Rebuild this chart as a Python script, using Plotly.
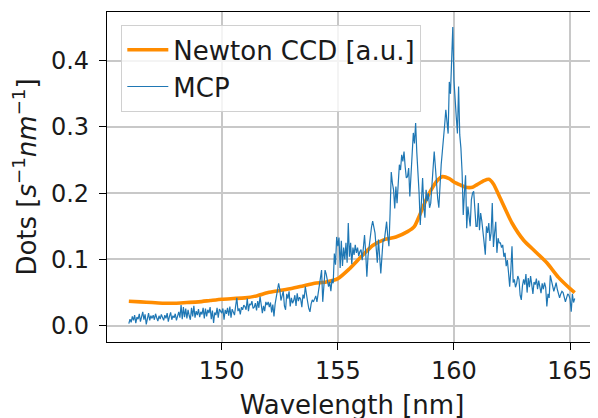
import numpy as np
import plotly.graph_objects as go

# ---- MCP spectrum (sampled every 0.05 nm from 146.00 to 165.20) ----
mcp_start = 146.0
mcp_step = 0.05
mcp_values = [
    # 146
    0.003, 0.010, 0.005, 0.014, 0.008, 0.016, 0.004, 0.013, 0.010, 0.018,
    0.006, 0.015, 0.021, 0.009, 0.017, 0.002, 0.012, 0.019, 0.008, 0.015,
    # 147
    0.011, 0.016, 0.009, 0.018, 0.012, 0.007, 0.015, 0.010, 0.017, 0.013,
    0.008, 0.016, 0.011, 0.019, 0.006, 0.014, 0.020, 0.009, 0.015, 0.012,
    # 148
    0.018, 0.008, 0.016, 0.021, 0.012, 0.031, 0.010, 0.028, 0.013, 0.026,
    0.011, 0.024, 0.015, 0.009, 0.027, 0.014, 0.030, 0.012, 0.022, 0.016,
    # 149
    0.025, 0.013, 0.021, 0.017, 0.027, 0.011, 0.026, 0.014, 0.024, 0.019,
    0.028, 0.010, 0.023, 0.004, 0.020, 0.016, 0.027, 0.012, 0.025, 0.021,
    # 150
    0.019, 0.026, 0.009, 0.024, 0.018, 0.027, 0.015, 0.029, 0.012, 0.025,
    0.020, 0.016, 0.030, 0.042, 0.022, 0.026, 0.017, 0.028, 0.024, 0.031,
    # 151
    0.029, 0.024, 0.041, 0.022, 0.033, 0.031, 0.037, 0.026, 0.028, 0.034,
    0.023, 0.037, 0.027, 0.044, 0.032, 0.019, 0.030, 0.022, 0.036, 0.031,
    # 152
    0.036, 0.028, 0.035, 0.020, 0.032, 0.014, 0.033, 0.045, 0.051, 0.064,
    0.055, 0.038, 0.045, 0.052, 0.030, 0.024, 0.048, 0.041, 0.052, 0.029,
    # 153
    0.042, 0.034, 0.038, 0.046, 0.030, 0.049, 0.037, 0.043, 0.040, 0.028,
    0.047, 0.041, 0.059, 0.044, 0.036, 0.026, 0.021, 0.033, 0.039, 0.036,
    # 154
    0.040, 0.045, 0.036, 0.050, 0.061, 0.072, 0.084, 0.036, 0.060, 0.084,
    0.078, 0.067, 0.059, 0.066, 0.052, 0.070, 0.064, 0.109, 0.092, 0.134,
    # 155
    0.120, 0.133, 0.087, 0.128, 0.090, 0.118, 0.100, 0.125, 0.095, 0.155,
    0.104, 0.125, 0.093, 0.118, 0.107, 0.122, 0.110, 0.118, 0.105, 0.112,
    # 156
    0.115, 0.099, 0.124, 0.137, 0.110, 0.074, 0.105, 0.122, 0.138, 0.149,
    0.158, 0.150, 0.140, 0.118, 0.095, 0.130, 0.108, 0.079, 0.105, 0.130,
    # 157
    0.128, 0.140, 0.157, 0.135, 0.120, 0.170, 0.232, 0.215, 0.205, 0.177,
    0.210, 0.185, 0.215, 0.243, 0.235, 0.258, 0.248, 0.263, 0.240, 0.223,
    # 158
    0.225, 0.238, 0.195, 0.230, 0.262, 0.291, 0.275, 0.306, 0.262, 0.232,
    0.200, 0.152, 0.195, 0.223, 0.180, 0.163, 0.205, 0.188, 0.200, 0.178,
    # 159
    0.185, 0.215, 0.245, 0.263, 0.240, 0.208, 0.192, 0.178, 0.215, 0.243,
    0.263, 0.280, 0.303, 0.326, 0.300, 0.290, 0.368, 0.350, 0.400, 0.451,
    # 160
    0.370, 0.330, 0.315, 0.290, 0.361, 0.288, 0.268, 0.232, 0.167, 0.200,
    0.227, 0.147, 0.180, 0.165, 0.150, 0.190, 0.200, 0.203, 0.178, 0.150,
    # 161
    0.150, 0.185, 0.144, 0.170, 0.158, 0.134, 0.125, 0.107, 0.150, 0.140,
    0.155, 0.128, 0.140, 0.185, 0.119, 0.140, 0.157, 0.110, 0.132, 0.125,
    # 162
    0.125, 0.118, 0.122, 0.104, 0.110, 0.090, 0.099, 0.080, 0.059, 0.084,
    0.120, 0.065, 0.070, 0.058, 0.064, 0.075, 0.070, 0.046, 0.039, 0.060,
    # 163
    0.070, 0.062, 0.078, 0.050, 0.072, 0.058, 0.075, 0.062, 0.048, 0.066,
    0.062, 0.071, 0.055, 0.068, 0.060, 0.049, 0.064, 0.055, 0.065, 0.058,
    # 164
    0.029, 0.048, 0.042, 0.076, 0.068, 0.060, 0.052, 0.058, 0.065, 0.055,
    0.050, 0.042, 0.048, 0.052, 0.050, 0.044, 0.036, 0.042, 0.048, 0.046,
    # 165
    0.040, 0.021, 0.048, 0.035, 0.041,
]
mcp_wavelength = [round(mcp_start + i * mcp_step, 2) for i in range(len(mcp_values))]

# ---- Newton CCD spectrum [a.u.] ----
ccd_wavelength = [146.0, 146.5, 147.0, 147.5, 148.0, 148.5, 149.0, 149.5, 150.0, 150.5,
                  151.0, 151.5, 152.0, 152.5, 153.0, 153.5, 154.0, 154.5, 155.0, 155.5,
                  156.0, 156.5, 157.0, 157.5, 158.0, 158.3, 158.5, 158.8, 159.0, 159.3,
                  159.5, 159.8, 160.0, 160.3, 160.5, 160.8, 161.0, 161.3, 161.5, 161.7,
                  162.0, 162.5, 163.0, 163.5, 164.0, 164.5, 165.0, 165.2]
ccd_values = [0.037, 0.036, 0.035, 0.034, 0.034, 0.035, 0.036, 0.038, 0.040, 0.041,
              0.042, 0.045, 0.050, 0.053, 0.056, 0.060, 0.064, 0.066, 0.071, 0.086,
              0.104, 0.121, 0.130, 0.134, 0.142, 0.150, 0.165, 0.190, 0.204, 0.220,
              0.225, 0.222, 0.217, 0.212, 0.209, 0.209, 0.213, 0.219, 0.221, 0.214,
              0.192, 0.155, 0.129, 0.112, 0.095, 0.073, 0.056, 0.050]

x_ticks = [150, 155, 160, 165]
y_ticks = [0.0, 0.1, 0.2, 0.3, 0.4]

FONT = "DejaVu Sans"
TXT = "#1a1a1a"

fig = go.Figure()
fig.add_trace(go.Scatter(
    x=ccd_wavelength, y=ccd_values, mode="lines", name="Newton CCD [a.u.]",
    line=dict(color="#ff8c00", width=3.6, shape="spline", smoothing=0.6),
    legendgroup="a",
))
fig.add_trace(go.Scatter(
    x=mcp_wavelength, y=mcp_values, mode="lines", name="MCP",
    line=dict(color="#1f77b4", width=1.2),
    legendgroup="b",
))

axis_common = dict(
    showline=True, linecolor="black", linewidth=1.3, mirror=True,
    showgrid=True, gridcolor="#c8c8c8", gridwidth=1.6,
    ticks="outside", ticklen=7, tickwidth=1.3, tickcolor="black",
    zeroline=False, automargin=False,
    tickfont=dict(family=FONT, size=24, color=TXT),
)

# the page body adds an 8 px offset; margins place the plot area at 107..597 x 12..342
fig.update_layout(
    width=598, height=418,
    margin=dict(l=99, r=9, t=4, b=84),
    paper_bgcolor="white", plot_bgcolor="white",
    font=dict(family=FONT, size=24, color=TXT),
    xaxis=dict(range=[145.06, 166.16], tickvals=x_ticks,
               title=dict(text="Wavelength [nm]", font=dict(family=FONT, size=26, color=TXT), standoff=11),
               **axis_common),
    yaxis=dict(range=[-0.0246, 0.4735], tickvals=y_ticks, tickformat=".1f",
               ticklabelstandoff=5,
               title=dict(text="Dots [<i>s</i><sup>−1</sup><i>nm</i><sup>−1</sup>]",
                          font=dict(family=FONT, size=26, color=TXT), standoff=18),
               **axis_common),
    legend=dict(
        x=0.0286, y=0.9606, xanchor="left", yanchor="top",
        bgcolor="rgba(255,255,255,0.8)", bordercolor="#d0d0d0", borderwidth=1.3,
        font=dict(family=FONT, size=26, color=TXT),
        traceorder="grouped", tracegroupgap=0, itemwidth=41,
    ),
    showlegend=True,
)

fig.write_html("out.html")
